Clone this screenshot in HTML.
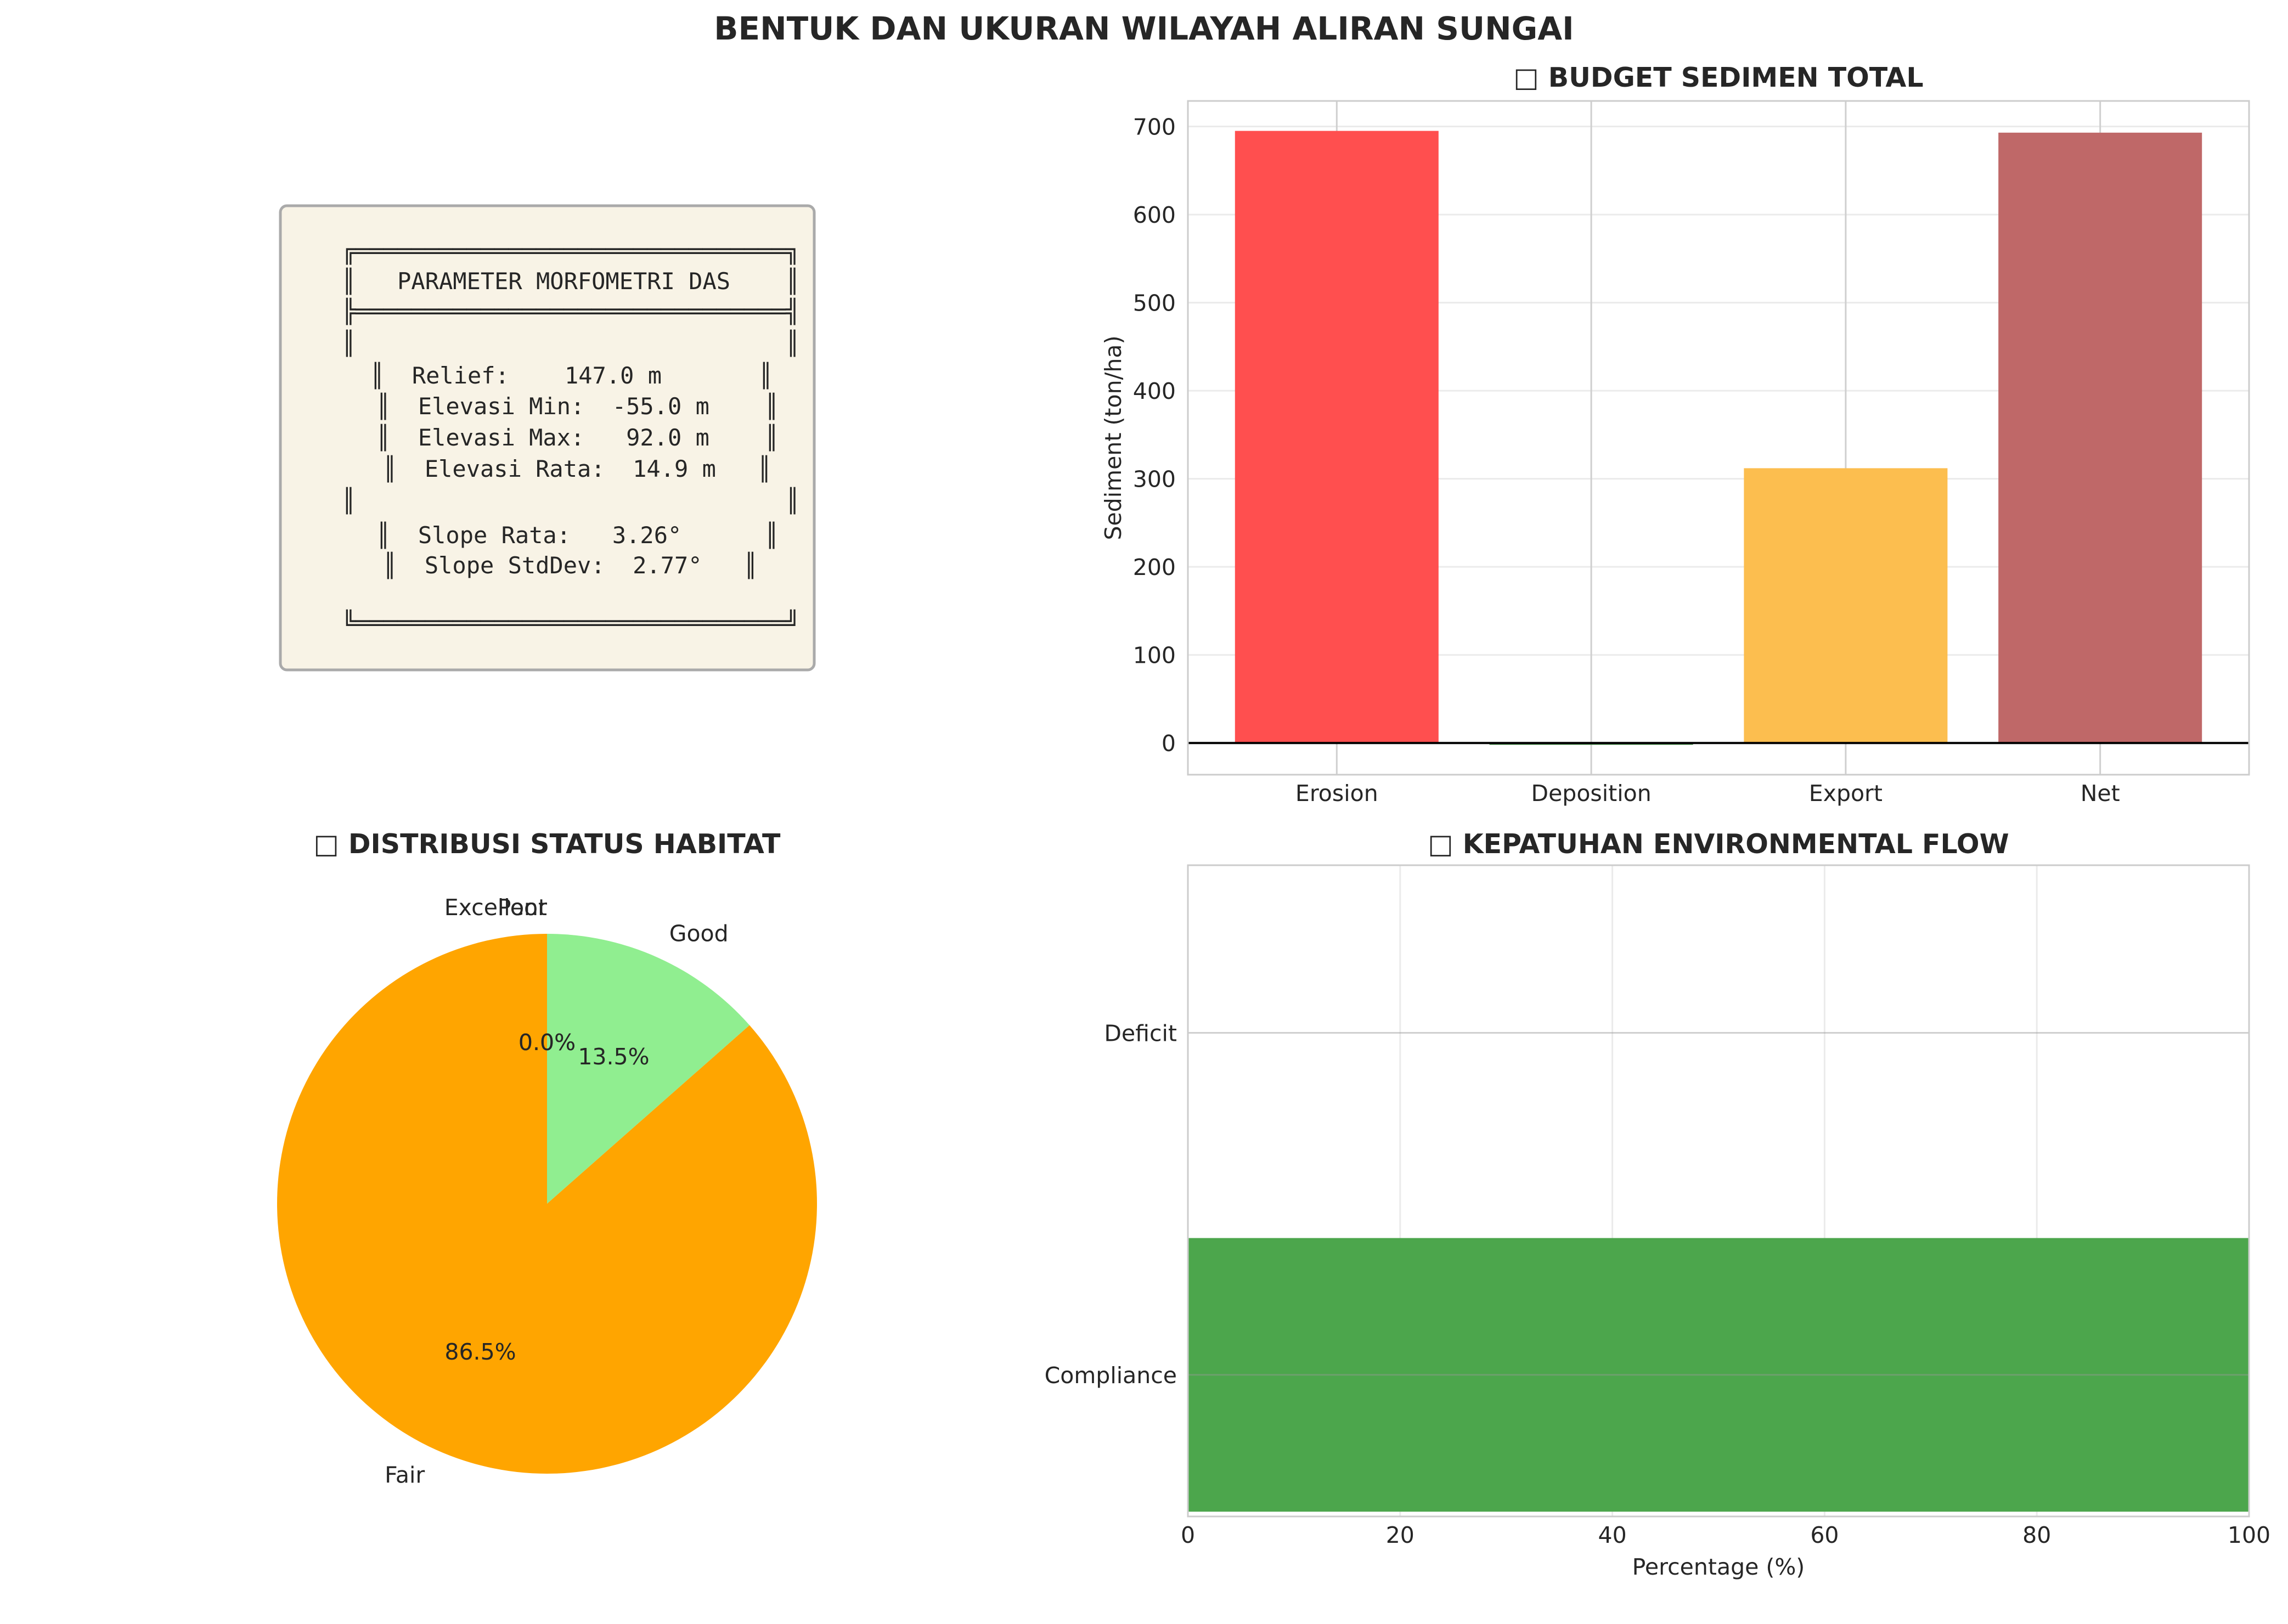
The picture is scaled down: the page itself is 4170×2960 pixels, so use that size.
<!DOCTYPE html>
<html><head><meta charset="utf-8"><style>
html,body{margin:0;padding:0;background:#fff}
svg text{font-family:"DejaVu Sans","Liberation Sans",sans-serif;fill:#262626}
.mono{font-family:"DejaVu Sans Mono","Liberation Mono",monospace;fill:#262626}
</style></head><body>
<svg id="fig" width="4170" height="2955" viewBox="0 0 4170 2955" xmlns="http://www.w3.org/2000/svg">
<rect width="4170" height="2955" fill="#fff"/>
<text x="2085" y="72" text-anchor="middle" font-size="58" font-weight="bold">BENTUK DAN UKURAN WILAYAH ALIRAN SUNGAI</text>
<g id="box">
<rect x="511" y="375" width="973" height="846" rx="12" fill="#f8f3e6" stroke="#aaa" stroke-width="5"/>
</g>
<g id="bar"></g>
<g id="pie"></g>
<g id="hbar"></g>
</svg>
<script>
const NS="http://www.w3.org/2000/svg";
function mk(parent,tag,attrs,txt){const e=document.createElementNS(NS,tag);for(const k in attrs)e.setAttribute(k,attrs[k]);if(txt!==undefined)e.textContent=txt;parent.appendChild(e);return e;}

// ---- text box lines ----
const boxLines=[
 ["╔═══════════════════════════════╗",623,457],
 ["║   PARAMETER MORFOMETRI DAS    ║",623,512],
 ["╠═══════════════════════════════╣",623,567],
 ["║                               ║",623,625],
 ["║  Relief:    147.0 m       ║",675,684],
 ["║  Elevasi Min:  -55.0 m    ║",686,740],
 ["║  Elevasi Max:   92.0 m    ║",686,797],
 ["║  Elevasi Rata:  14.9 m   ║",698,854],
 ["║                               ║",623,912],
 ["║  Slope Rata:   3.26°      ║",686,975],
 ["║  Slope StdDev:  2.77°   ║",698,1030],
 ["╚═══════════════════════════════╝",623,1135]
];
const box=document.getElementById('box');
boxLines.forEach(l=>{
 const t=mk(box,'text',{x:l[1],y:l[2]+15,'font-size':42,'class':'mono','xml:space':'preserve'},l[0]);
 
 
 t.style.whiteSpace='pre';
});

// ---- sediment bar chart ----
const sedCategories=["Erosion","Deposition","Export","Net"];
const sedValues=[695,-2,312,693];
const sedColors=["#ff4f4f","#2e7d32","#fcbe4f","#bf6868"];
const sedTicks=[0,100,200,300,400,500,600,700];
(function(){
 const g=document.getElementById('bar');
 const L=2165,R=4099,T=184,B=1412,ymin=-36,ymax=729;
 const y=v=>B-(v-ymin)/(ymax-ymin)*(B-T);
 const n=sedCategories.length,step=(R-L)/(n+0.17);
 const x=i=>L+(i+0.585)*step;
 sedTicks.forEach(v=>{
  const ln=mk(g,'line',{x1:L,x2:R,y1:y(v),y2:y(v),stroke:'#ebebeb','stroke-width':3});
  
  
  const t=mk(g,'text',{x:L-22,y:y(v)+15,'text-anchor':'end','font-size':41},String(v));
  
  
 });
 sedCategories.forEach((c,i)=>{
  const ln=mk(g,'line',{x1:x(i),x2:x(i),y1:T,y2:B,stroke:'#cfcfcf','stroke-width':3});
  
  
 });
 sedCategories.forEach((c,i)=>{
  const v=sedValues[i],w=step*0.8;
  const r=mk(g,'rect',{x:x(i)-w/2,y:Math.min(y(v),y(0)),width:w,height:Math.max(Math.abs(y(v)-y(0)),2),fill:sedColors[i]});
  
  
  const t=mk(g,'text',{x:x(i),y:1460,'text-anchor':'middle','font-size':41},c);
  
  
 });
 const z=mk(g,'line',{x1:L,x2:R,y1:y(0),y2:y(0),stroke:'#000','stroke-width':4});
 
 
 const fr=mk(g,'rect',{x:L,y:T,width:R-L,height:B-T,fill:'none',stroke:'#ccc','stroke-width':3});
 
 
 const yl=mk(g,'text',{x:0,y:0,'text-anchor':'middle','font-size':41,transform:`translate(2043,${(T+B)/2}) rotate(-90)`},'Sediment (ton/ha)');
 
 
 const tt=mk(g,'text',{x:(L+R)/2,y:158,'text-anchor':'middle','font-size':49,'font-weight':'bold'},'□ BUDGET SEDIMEN TOTAL');
 
 
})();

// ---- pie ----
const habitatLabels=["Excellent","Good","Fair","Poor"];
const habitatValues=[0,13.5,86.5,0];
const habitatColors=["#2e7d32","#90ee90","#ffa500","#ff4500"];
(function(){
 const g=document.getElementById('pie');
 const cx=997,cy=2194,r=492;
 const total=habitatValues.reduce((a,b)=>a+b,0);
 let a=90;
 const pt=(ang,rr)=>[cx+rr*Math.cos(ang*Math.PI/180),cy-rr*Math.sin(ang*Math.PI/180)];
 const texts=[];
 habitatValues.forEach((v,i)=>{
  const sweep=v/total*360,a2=a-sweep,mid=a-sweep/2;
  if(sweep>0){
   const p1=pt(a,r),p2=pt(a2,r);
   const p=mk(g,'path',{d:`M${cx},${cy} L${p1[0]},${p1[1]} A${r},${r} 0 ${sweep>180?1:0} 1 ${p2[0]},${p2[1]} Z`,fill:habitatColors[i]});
   
   
  }
  texts.push([i,v,mid]);
  a=a2;
 });
 texts.forEach(([i,v,mid])=>{
  const lp=pt(mid,r*1.1),c=Math.cos(mid*Math.PI/180);
  const anchor=Math.abs(c)<0.01?'end':(c>0?'start':'end');
  const lt=mk(g,'text',{x:lp[0],y:lp[1]+15,'text-anchor':anchor,'font-size':41},habitatLabels[i]);
  
  
  const pp=pt(mid,r*0.6);
  const pt2=mk(g,'text',{x:pp[0],y:pp[1]+15,'text-anchor':'middle','font-size':41},(v/total*100).toFixed(1)+'%');
  
  
 });
 const tt=mk(g,'text',{x:cx,y:1555,'text-anchor':'middle','font-size':49,'font-weight':'bold'},'□ DISTRIBUSI STATUS HABITAT');
 
 
})();

// ---- horizontal bar ----
const flowCategories=["Compliance","Deficit"];
const flowValues=[100,0];
const flowTicks=[0,20,40,60,80,100];
(function(){
 const g=document.getElementById('hbar');
 const L=2165,R=4099,T=1577,B=2764,ymin=-0.414,ymax=1.49;
 const x=v=>L+v/100*(R-L);
 const y=v=>B-(v-ymin)/(ymax-ymin)*(B-T);
 flowTicks.forEach(v=>{
  const ln=mk(g,'line',{x1:x(v),x2:x(v),y1:T,y2:B,stroke:'#ebebeb','stroke-width':3});
  
  
  const t=mk(g,'text',{x:x(v),y:2812,'text-anchor':'middle','font-size':41},String(v));
  
  
 });
 flowCategories.forEach((c,i)=>{
  const h=(y(0)-y(0.8));
  const r=mk(g,'rect',{x:L,y:y(i)-h/2,width:x(flowValues[i])-L,height:h,fill:'#4ca64c'});
  
  
  const ln=mk(g,'line',{x1:L,x2:R,y1:y(i),y2:y(i),stroke:'rgba(150,150,150,0.45)','stroke-width':3});
  
  
  const t=mk(g,'text',{x:L-20,y:y(i)+15,'text-anchor':'end','font-size':41},c);
  
  
 });
 const fr=mk(g,'rect',{x:L,y:T,width:R-L,height:B-T,fill:'none',stroke:'#ccc','stroke-width':3});
 
 
 const xl=mk(g,'text',{x:(L+R)/2,y:2870,'text-anchor':'middle','font-size':41},'Percentage (%)');
 
 
 const tt=mk(g,'text',{x:(L+R)/2,y:1555,'text-anchor':'middle','font-size':49,'font-weight':'bold'},'□ KEPATUHAN ENVIRONMENTAL FLOW');
 
 
})();
</script>
</body></html>
